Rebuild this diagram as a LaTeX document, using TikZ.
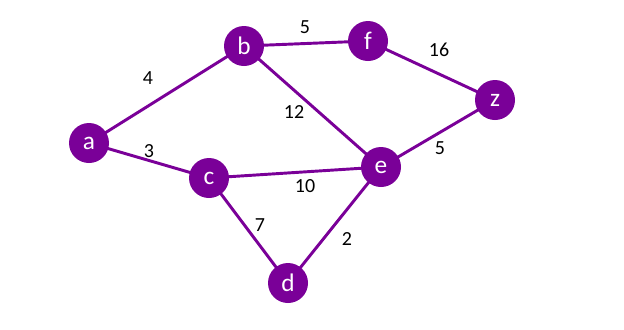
\documentclass[tikz,border=0pt]{standalone}
\usepackage{fontspec}
\setmainfont{Carlito}
\usepackage{xcolor}
\definecolor{GraphPurple}{RGB}{122,0,152}

\begin{document}
\begin{tikzpicture}[x=0.75pt,y=-0.75pt,vertex/.style={circle,fill=GraphPurple,text=white,minimum size=30pt,inner sep=0pt,font=\fontsize{19}{22}\selectfont},edge/.style={draw=GraphPurple,line width=2.2pt},weight/.style={font=\fontsize{15}{18}\selectfont,inner sep=0pt}]
\useasboundingbox (0,0) rectangle (624,329);
% edges go first, vertices drawn over them
\coordinate (pa) at (89,143);
\coordinate (pb) at (244,46);
\coordinate (pf) at (368,41);
\coordinate (pz) at (495,100);
\coordinate (pe) at (381,167);
\coordinate (pc) at (209,178);
\coordinate (pd) at (288,283);
\foreach \u/\v in {a/b,b/f,f/z,b/e,a/c,c/e,z/e,c/d,d/e}{\draw[edge](p\u)--(p\v);}
\foreach \n in {a,b,f,z,e,c,d}{\node[vertex](\n) at (p\n){\n};}
\node[weight](wab) at (148,78){4};
\node[weight](wbf) at (305,27){5};
\node[weight](wfz) at (439,50){16};
\node[weight](wbe) at (294,112){12};
\node[weight](wac) at (149,151){3};
\node[weight](wce) at (305,186){10};
\node[weight](wze) at (440,148){5};
\node[weight](wcd) at (260,225){7};
\node[weight](wde) at (347,239){2};
\end{tikzpicture}
\end{document}
